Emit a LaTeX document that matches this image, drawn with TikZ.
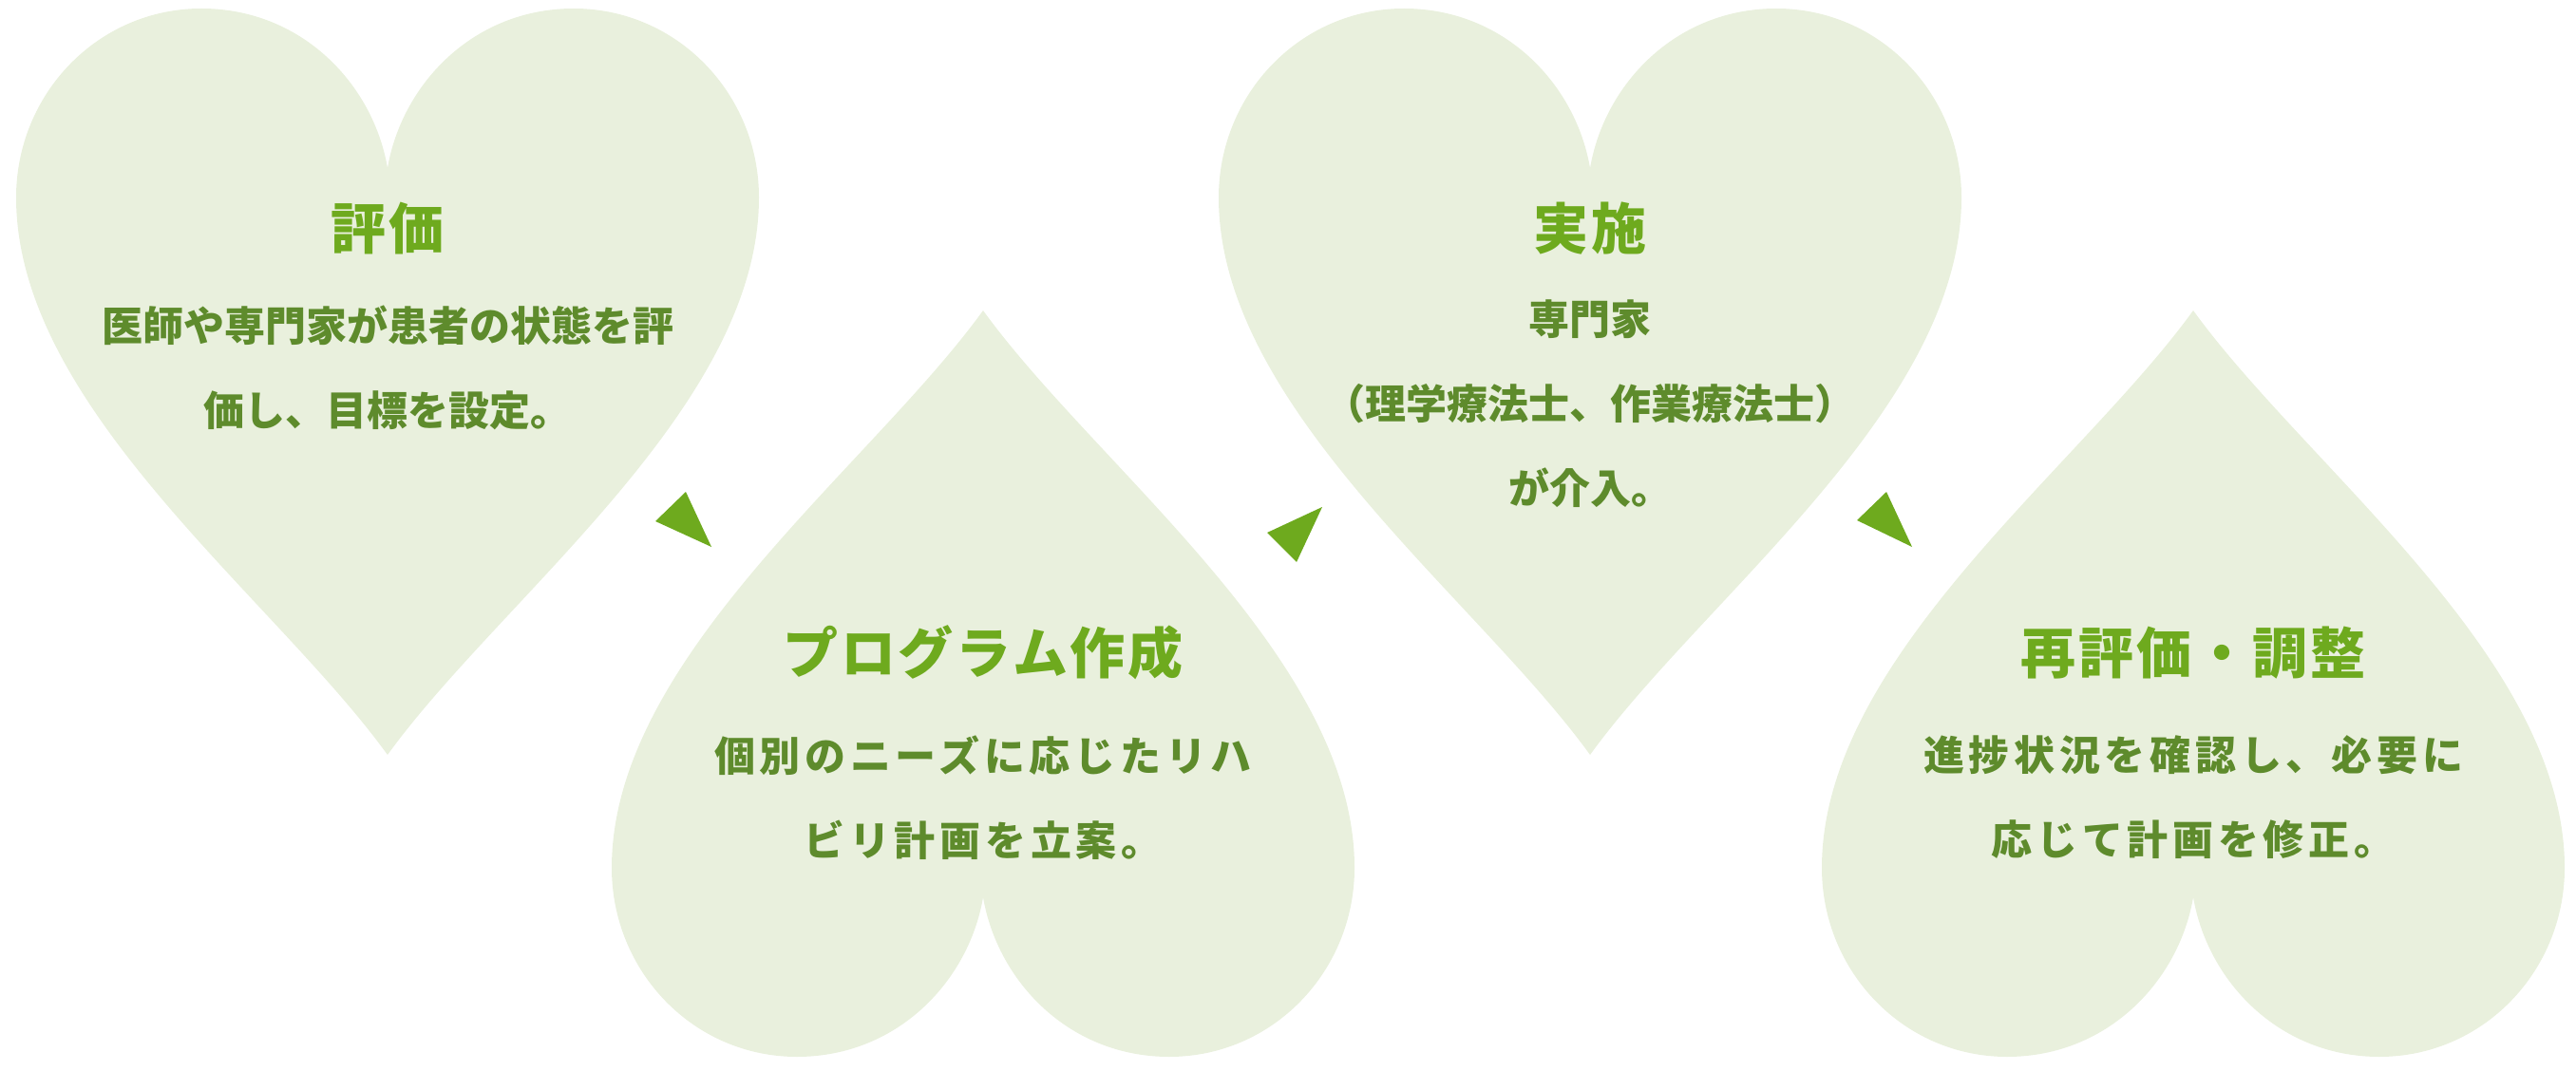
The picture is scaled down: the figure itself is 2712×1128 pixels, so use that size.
\documentclass[tikz,border=0pt]{standalone}
\usepackage{fontspec}
\usetikzlibrary{positioning}
\newfontfamily\jpfont{Noto Sans CJK JP}
\newfontfamily\jpwide{Noto Sans CJK JP}[LetterSpace=11]
\newfontfamily\jptitle{Noto Sans CJK JP}[LetterSpace=5]
\definecolor{heartfill}{HTML}{E9F0DD}
\definecolor{titlegreen}{HTML}{6EAA1E}
\definecolor{bodygreen}{HTML}{5E8B2C}

\begin{document}
\begin{tikzpicture}[x=0.5pt, y=-0.5pt,
  heart/.style={fill=heartfill},
  title/.style={text=titlegreen, font=\jptitle\bfseries\fontsize{29}{35}\selectfont},
  body/.style={text=bodygreen, align=center, font=\jpfont\bfseries\fontsize{21.5}{44.5}\selectfont},
  widebody/.style={body, font=\jpwide\bfseries\fontsize{21.5}{44.5}\selectfont},
  tri/.style={fill=titlegreen}]
\useasboundingbox (0,0) rectangle (2712,1128);

% hearts, upright and upside down
\foreach \cx/\ty/\s in {408/9/1, 1035/1113/-1, 1674/9/1, 2309/1113/-1} {
  \begin{scope}[shift={(\cx,\ty)}, yscale=\s]
    \fill[heart] (0,168) .. controls (15,80) and (90,0) .. (196,0)
      .. controls (305,0) and (391,90) .. (391,199)
      .. controls (391,420) and (120,620) .. (0,786)
      .. controls (-120,620) and (-391,420) .. (-391,199)
      .. controls (-391,90) and (-305,0) .. (-196,0)
      .. controls (-90,0) and (-15,80) .. (0,168) -- cycle;
  \end{scope}
}

\node[title] (t1) at (408,241) {評価};
\node[body] (b1) at (408,387) {医師や専門家が患者の状態を評\\価し、目標を設定。};
\node[title] (t2) at (1035,687) {プログラム作成};
\node[widebody] (b2) at (1035,840) {個別のニーズに応じたリハ\\ビリ計画を立案。};
\node[title] (t3) at (1674,241) {実施};
\node[body] (b3) at (1674,425) {専門家\\（理学療法士、作業療法士）\\が介入。};
\node[title] (t4) at (2309,688) {再評価・調整};
\node[widebody] (b4) at (2309,840) {進捗状況を確認し、必要に\\応じて計画を修正。};

% arrow heads between the steps
\fill[tri] (690,549) -- (722,518) -- (749,576) -- cycle;
\fill[tri] (1334,561) -- (1392,534) -- (1365,592) -- cycle;
\fill[tri] (1955,548) -- (1986,518) -- (2013,576) -- cycle;
\end{tikzpicture}
\end{document}
